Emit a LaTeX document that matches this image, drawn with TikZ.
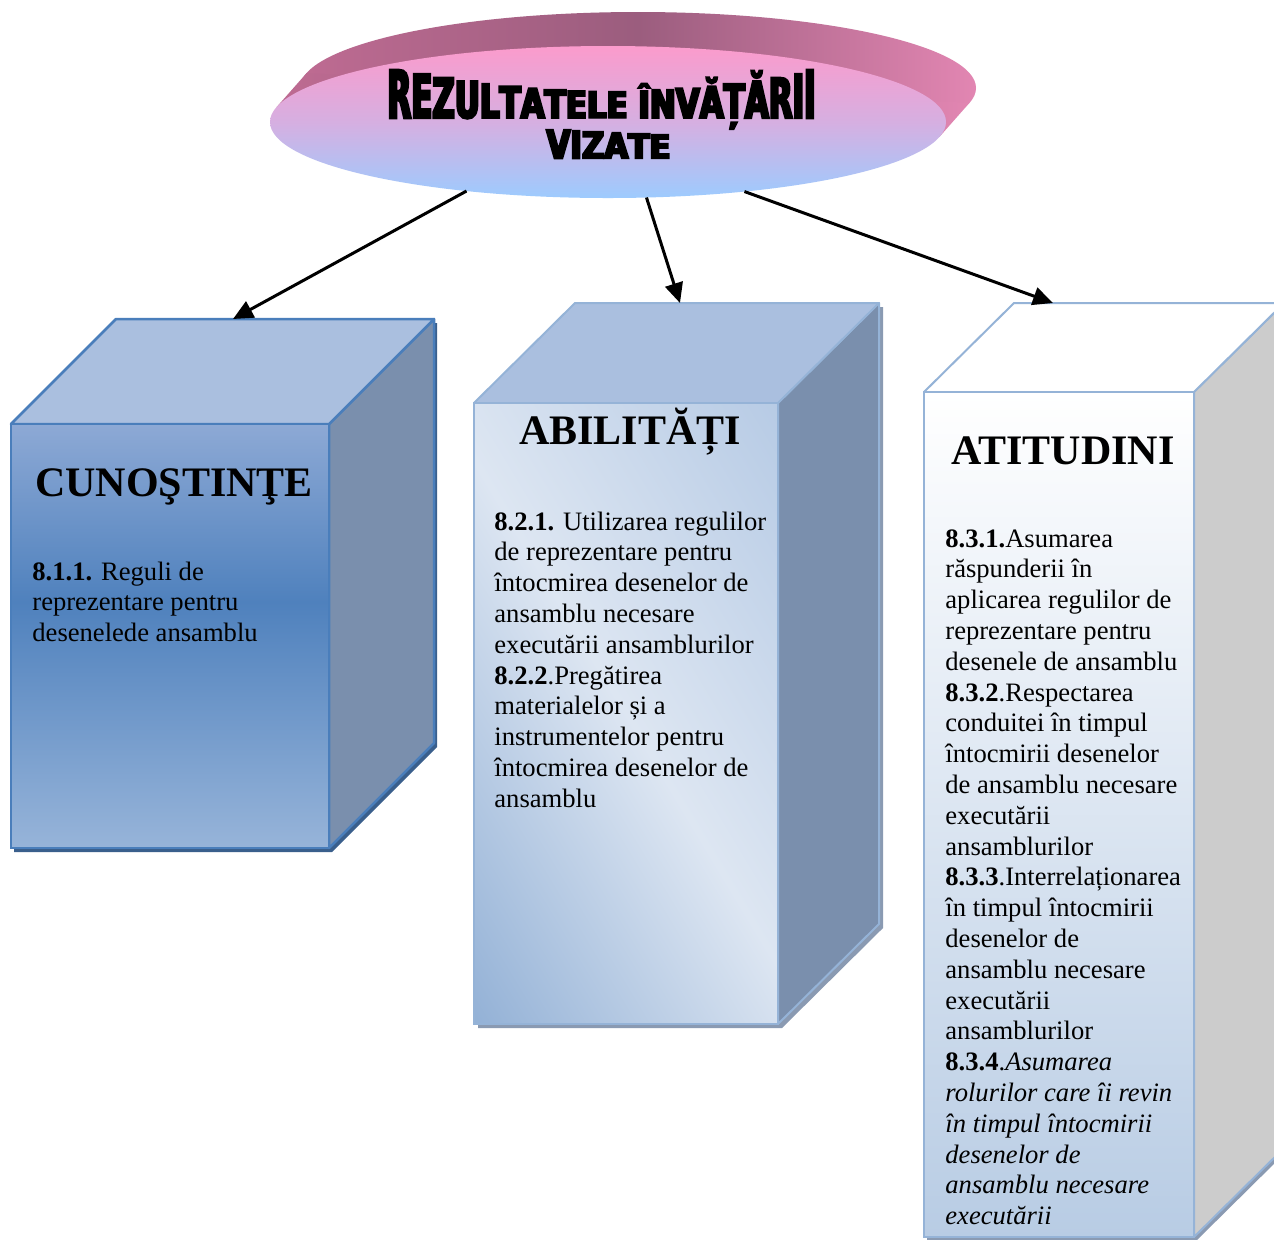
\documentclass[tikz,border=0pt]{standalone}
\usepackage{fontspec}
\usepackage{graphicx}
\setmainfont{Liberation Serif}
\newfontfamily\wordart{DejaVu Sans}[FakeStretch=0.47,FakeBold=4]
\usetikzlibrary{arrows.meta,shapes.geometric}
\definecolor{rimL}{HTML}{BE6B92}
\definecolor{rimM}{HTML}{9B5D7E}
\definecolor{rimR}{HTML}{E286B2}
\definecolor{ellTop}{HTML}{FB9BCC}
\definecolor{ellMid}{HTML}{D6AFE1}
\definecolor{ellBot}{HTML}{9DCBFE}
\definecolor{cTop}{HTML}{8DA9D5}
\definecolor{cMid}{HTML}{4F81BD}
\definecolor{cBot}{HTML}{97B4D9}
\definecolor{cBorder}{HTML}{4A7EBB}
\definecolor{cShadow}{HTML}{3A5F8C}
\definecolor{faceTop}{HTML}{AABFDF}
\definecolor{faceSide}{HTML}{7A8FAD}
\definecolor{lBorder}{HTML}{95B3D7}
\definecolor{gShadow}{HTML}{8A9AB2}
\definecolor{aTop}{HTML}{B7CBE5}
\definecolor{aMid}{HTML}{DDE6F2}
\definecolor{aBot}{HTML}{93B1D6}
\definecolor{tBot}{HTML}{B8CCE4}
\definecolor{graySide}{HTML}{CCCCCC}
\pgfdeclareverticalshading{cunoshade}{100bp}{color(0bp)=(cBot); color(25bp)=(cBot); color(54bp)=(cMid); color(75bp)=(cTop); color(100bp)=(cTop)}
\pgfdeclareverticalshading{abishade}{100bp}{color(0bp)=(aBot); color(28.7bp)=(aBot); color(50bp)=(aMid); color(71.3bp)=(aTop); color(100bp)=(aTop)}
\newcommand\wa[2]{\scalebox{1}[#1]{#2}}
\tikzset{
  arr/.style={line width=1.5pt,-{Triangle[length=10pt,width=9pt]}},
  ttl/.style={anchor=base,inner sep=0,font=\fontsize{21pt}{25pt}\selectfont\bfseries},
  body/.style={anchor=base west,inner sep=0,font=\fontsize{13.3pt}{15.4pt}\selectfont},
  wordarttext/.style={anchor=base,inner sep=0,font=\wordart\bfseries\fontsize{32.9pt}{19.5pt}\selectfont},
  frontface/.style={inner sep=0,outer sep=0,rectangle}
}
\begin{document}
\begin{tikzpicture}[x=0.5pt,y=-0.5pt]
\path[use as bounding box,clip] (0,0) rectangle (1274,1239);
\fill[white] (0,0) rectangle (1274,1239);

% ---- top ellipse (3D rim) ----
\shade[left color=rimL,right color=rimR,middle color=rimM] (638,88) ellipse [x radius=338,y radius=76];
\shade[left color=rimL,right color=rimR,middle color=rimM] (276.5,107.2) -- (306.5,73.2) -- (969.5,102.8) -- (939.5,136.8) -- cycle;
\node[ellipse,inner sep=0,outer sep=0,minimum width=338pt,minimum height=76pt,
      top color=ellTop,bottom color=ellBot,middle color=ellMid] (goal) at (608,122) {};
\node[wordarttext] (title) at (601.5,118) {\begin{tabular}[t]{@{}c@{}}
\wa{1}{R}\wa{.915}{E}\wa{.838}{Z}\wa{.77}{U}\wa{.712}{L}\wa{.663}{T}\wa{.622}{A}\wa{.59}{T}\wa{.568}{E}\wa{.555}{L}\wa{.55}{E}\ \wa{.568}{Î}\wa{.59}{N}\wa{.622}{V}\wa{.663}{Ă}\wa{.712}{Ț}\wa{.77}{Ă}\wa{.838}{R}\wa{.915}{I}\wa{1}{I}\\
\hspace*{7pt}\wa{.6}{V}\wa{.58}{I}\wa{.56}{Z}\wa{.54}{A}\wa{.52}{T}\wa{.5}{E}
\end{tabular}};

% ---- box 1 : CUNOSTINTE ----
\fill[cShadow] (14,428) -- (119,323) -- (437,323) -- (437,747) -- (332,852) -- (14,852) -- cycle;
\filldraw[fill=faceSide,draw=cBorder,line width=1.25pt,line join=round] (329,424) -- (434,319) -- (434,743) -- (329,848) -- cycle;
\filldraw[fill=faceTop,draw=cBorder,line width=1.25pt,line join=round] (11,424) -- (116,319) -- (434,319) -- (329,424) -- cycle;
\node[frontface,draw=cBorder,line width=1.25pt,shading=cunoshade,minimum width=159pt,minimum height=212pt] (f1) at (170,636) {};
\node[ttl] (h1) at (174,496) {CUNOŞTINŢE};
\node[body] (x1) at (32,580) {\begin{tabular}[t]{@{}l@{}}
\textbf{8.1.1.} Reguli de\\
reprezentare pentru\\
desenelede ansamblu
\end{tabular}};

% ---- box 2 : ABILITATI ----
\fill[gShadow] (478,407) -- (579,307) -- (883,307) -- (883,928) -- (782,1028) -- (478,1028) -- cycle;
\filldraw[fill=faceSide,draw=lBorder,line width=1pt,line join=round] (778,403) -- (879,303) -- (879,924) -- (778,1024) -- cycle;
\filldraw[fill=faceTop,draw=lBorder,line width=1pt,line join=round] (474,403) -- (575,303) -- (879,303) -- (778,403) -- cycle;
\begin{scope}
  \clip (474,403) rectangle (778,1024);
  \shade[shading=abishade,shading angle=-59] (286,373.5) rectangle (966,1053.5);
\end{scope}
\node[frontface,draw=lBorder,line width=1pt,minimum width=152pt,minimum height=310.5pt] (f2) at (626,713.5) {};
\node[ttl] (h2) at (630,444) {ABILITĂȚI};
\node[body] (x2) at (494,530) {\begin{tabular}[t]{@{}l@{}}
\textbf{8.2.1.} Utilizarea regulilor\\
de reprezentare pentru\\
întocmirea desenelor de\\
ansamblu necesare\\
executării ansamblurilor\\
\textbf{8.2.2}.Pregătirea\\
materialelor și a\\
instrumentelor pentru\\
întocmirea desenelor de\\
ansamblu
\end{tabular}};

% ---- box 3 : ATITUDINI ----
\fill[gShadow] (927,395) -- (1017,306) -- (1287,306) -- (1287,1151) -- (1197,1240) -- (927,1240) -- cycle;
\filldraw[fill=graySide,draw=lBorder,line width=1pt,line join=round] (1194,392) -- (1284,303) -- (1284,1148) -- (1194,1237) -- cycle;
\filldraw[fill=white,draw=lBorder,line width=1pt,line join=round] (924,392) -- (1014,303) -- (1284,303) -- (1194,392) -- cycle;
\node[frontface,draw=lBorder,line width=1pt,top color=white,bottom color=tBot,minimum width=135pt,minimum height=422.5pt] (f3) at (1059,814.5) {};
\node[ttl] (h3) at (1063,464) {ATITUDINI};
\node[body] (x3) at (945,547) {\begin{tabular}[t]{@{}l@{}}
\textbf{8.3.1.}Asumarea\\
răspunderii în\\
aplicarea regulilor de\\
reprezentare pentru\\
desenele de ansamblu\\
\textbf{8.3.2}.Respectarea\\
conduitei în timpul\\
întocmirii desenelor\\
de ansamblu necesare\\
executării\\
ansamblurilor\\
\textbf{8.3.3}.Interrelaționarea\\
în timpul întocmirii\\
desenelor de\\
ansamblu necesare\\
executării\\
ansamblurilor\\
\textbf{8.3.4}.\textit{Asumarea}\\
\textit{rolurilor care îi revin}\\
\textit{în timpul întocmirii}\\
\textit{desenelor de}\\
\textit{ansamblu necesare}\\
\textit{executării}
\end{tabular}};

% ---- connectors ----
\coordinate (in1) at (233,319);
\coordinate (in2) at (680,303);
\coordinate (in3) at (1053,303);
\draw[arr] (goal.206) -- (in1);
\draw[arr] (goal.297) -- (in2);
\draw[arr] (goal.333) -- (in3);
\end{tikzpicture}
\end{document}
